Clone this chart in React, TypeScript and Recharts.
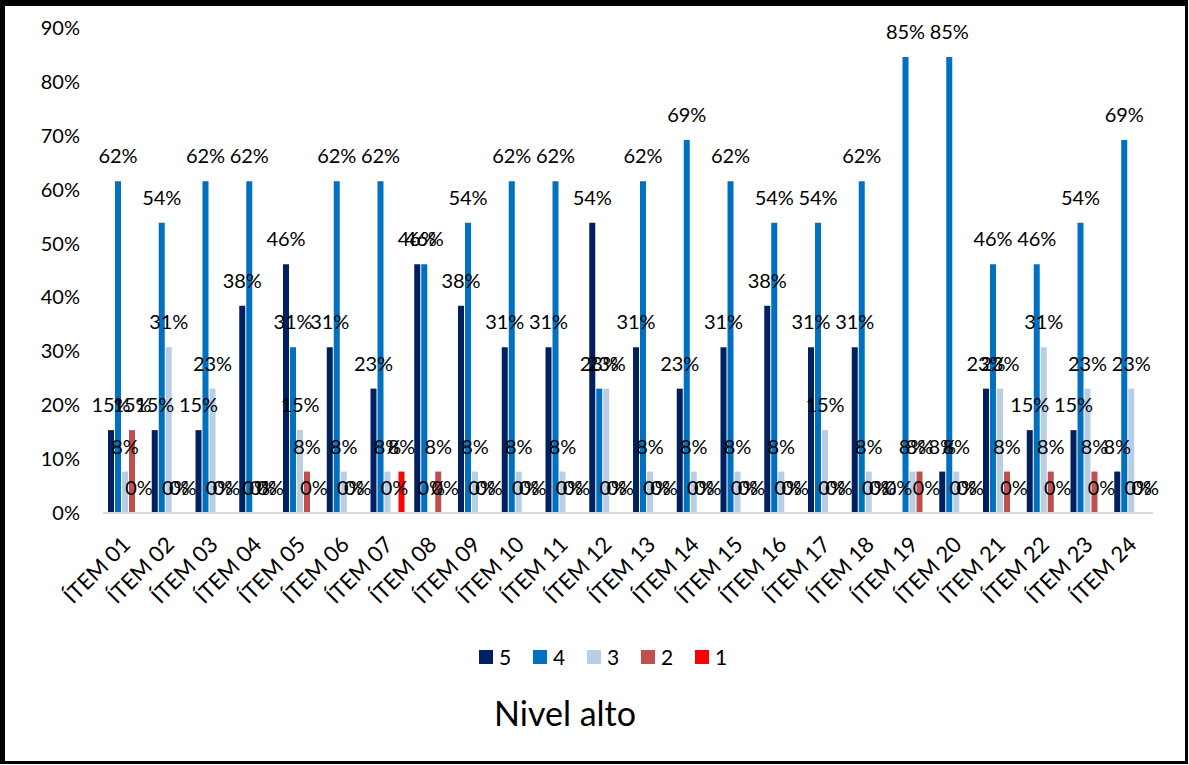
import React from 'react';
import { BarChart, Bar, XAxis, YAxis, LabelList } from 'recharts';

// Item categories (x axis)
const items = [
  'ÍTEM 01', 'ÍTEM 02', 'ÍTEM 03', 'ÍTEM 04', 'ÍTEM 05', 'ÍTEM 06',
  'ÍTEM 07', 'ÍTEM 08', 'ÍTEM 09', 'ÍTEM 10', 'ÍTEM 11', 'ÍTEM 12',
  'ÍTEM 13', 'ÍTEM 14', 'ÍTEM 15', 'ÍTEM 16', 'ÍTEM 17', 'ÍTEM 18',
  'ÍTEM 19', 'ÍTEM 20', 'ÍTEM 21', 'ÍTEM 22', 'ÍTEM 23', 'ÍTEM 24',
];

// Share of answers (%) per scale level
const nivel5 = [15.38, 15.38, 15.38, 38.46, 46.15, 30.77, 23.08, 46.15, 38.46, 30.77, 30.77, 53.85, 30.77, 23.08, 30.77, 38.46, 30.77, 30.77, 0, 7.69, 23.08, 15.38, 15.38, 7.69];
const nivel4 = [61.54, 53.85, 61.54, 61.54, 30.77, 61.54, 61.54, 46.15, 53.85, 61.54, 61.54, 23.08, 61.54, 69.23, 61.54, 53.85, 53.85, 61.54, 84.62, 84.62, 46.15, 46.15, 53.85, 69.23];
const nivel3 = [7.69, 30.77, 23.08, 0, 15.38, 7.69, 7.69, 0, 7.69, 7.69, 7.69, 23.08, 7.69, 7.69, 7.69, 7.69, 15.38, 7.69, 7.69, 7.69, 23.08, 30.77, 23.08, 23.08];
const nivel2 = [15.38, 0, 0, 0, 7.69, 0, 0, 7.69, 0, 0, 0, 0, 0, 0, 0, 0, 0, 0, 7.69, 0, 7.69, 7.69, 7.69, 0];
const nivel1 = [0, 0, 0, 0, 0, 0, 7.69, 0, 0, 0, 0, 0, 0, 0, 0, 0, 0, 0, 0, 0, 0, 0, 0, 0];

const yTicks = [0, 10, 20, 30, 40, 50, 60, 70, 80, 90];

const series = [
  { key: 'n5', name: '5', color: '#002060' },
  { key: 'n4', name: '4', color: '#0070C0' },
  { key: 'n3', name: '3', color: '#B9CDE5' },
  { key: 'n2', name: '2', color: '#C0504D' },
  { key: 'n1', name: '1', color: '#FF0000' },
];

const data = items.map((item, i) => ({
  item,
  n5: nivel5[i],
  n4: nivel4[i],
  n3: nivel3[i],
  n2: nivel2[i],
  n1: nivel1[i],
}));

const FONT = 'Lato, "Open Sans", sans-serif';

const ValueLabel = (props: any) => {
  const { x, y, width, height, value } = props;
  if (value == null) return null;
  const top = Number(y) + Math.min(0, Number(height) || 0);
  return (
    <text
      x={Number(x) + Number(width) / 2}
      y={top - 18}
      textAnchor="middle"
      fontSize={20}
      fill="#000"
      fontFamily={FONT}
    >
      {Math.round(Number(value))}%
    </text>
  );
};

const YTick = (props: any) => {
  const { y, payload } = props;
  return (
    <text x={80} y={y} dy={7} textAnchor="end" fontSize={20} fill="#000" fontFamily={FONT}>
      {payload.value}%
    </text>
  );
};

const XTick = (props: any) => {
  const { x, y, payload } = props;
  const ax = x + 7;
  const ay = y + 25;
  return (
    <text
      x={ax}
      y={ay}
      textAnchor="end"
      fontSize={22}
      fill="#000"
      fontFamily={FONT}
      transform={`rotate(-45, ${ax}, ${ay})`}
    >
      {payload.value}
    </text>
  );
};

export default function App() {
  return (
    <div style={{ position: 'absolute', left: 0, top: 0, width: 1189, height: 765, background: '#fff', fontFamily: FONT }}>
      <div
        style={{
          position: 'absolute',
          left: 0,
          top: 0,
          width: 1188,
          height: 764,
          boxSizing: 'border-box',
          borderTop: '6px solid #000',
          borderLeft: '5px solid #000',
          borderRight: '3px solid #000',
          borderBottom: '3px solid #000',
        }}
      />
      <div style={{ position: 'absolute', left: 0, top: 0 }}>
        <BarChart
          width={1189}
          height={765}
          data={data}
          margin={{ top: 28, right: 36, bottom: 172, left: 0 }}
          barGap={1}
          barSize={6}
        >
          <XAxis
            dataKey="item"
            interval={0}
            height={80}
            tickLine={false}
            axisLine={{ stroke: '#D9D9D9', strokeWidth: 2 }}
            tick={<XTick />}
          />
          <YAxis
            width={103}
            domain={[0, 90]}
            ticks={yTicks}
            axisLine={false}
            tickLine={false}
            tick={<YTick />}
          />
          {series.map((s) => (
            <Bar
              key={s.key}
              dataKey={s.key}
              name={s.name}
              fill={s.color}
              minPointSize={0.01}
              isAnimationActive={false}
            >
              <LabelList dataKey={s.key} content={<ValueLabel />} />
            </Bar>
          ))}
        </BarChart>
      </div>
      {/* legend */}
      <div
        style={{
          position: 'absolute',
          left: 479,
          top: 646,
          display: 'flex',
          fontFamily: FONT,
          fontSize: 21,
          color: '#000',
        }}
      >
        {series.map((s) => (
          <div key={s.key} style={{ display: 'flex', alignItems: 'center', width: 54, height: 22 }}>
            <span style={{ display: 'inline-block', width: 14, height: 14, background: s.color, marginRight: 6 }} />
            <span style={{ lineHeight: '22px' }}>{s.name}</span>
          </div>
        ))}
      </div>
      <div
        style={{
          position: 'absolute',
          left: 0,
          width: 1130,
          top: 692,
          textAlign: 'center',
          fontSize: 34,
          color: '#000',
          fontFamily: FONT,
        }}
      >
        Nivel alto
      </div>
    </div>
  );
}
